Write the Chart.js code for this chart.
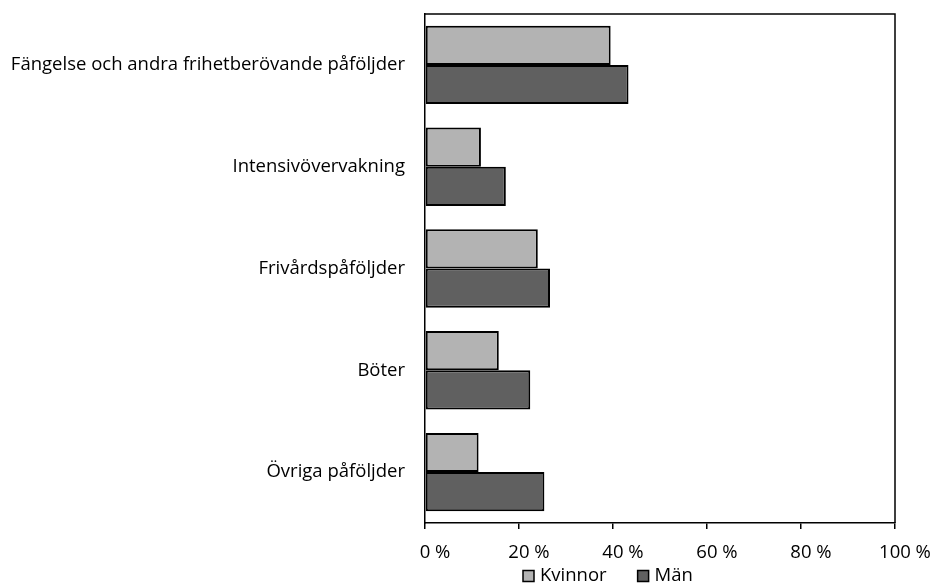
<!DOCTYPE html>
<html>
<head>
<meta charset="utf-8">
<script src="https://cdn.jsdelivr.net/npm/chart.js@4"></script>
<style>
  html, body { margin: 0; padding: 0; background: #fff; }
  #wrap { width: 933px; height: 585px; }
</style>
</head>
<body>
<div id="wrap"><canvas id="chart"></canvas></div>
<script>
// Categories and values (share in %)
const categories = [
  'Fängelse och andra frihetberövande påföljder',
  'Intensivövervakning',
  'Frivårdspåföljder',
  'Böter',
  'Övriga påföljder'
];
const kvinnor = [39.5, 11.9, 24.0, 15.7, 11.4];
const man = [43.3, 17.2, 26.6, 22.4, 25.4];
const xTicks = [0, 20, 40, 60, 80, 100];

const fontFamily = '"Open Sans", "Noto Sans", sans-serif';
const font = { family: fontFamily, size: 18.5 };

// Draw the top and right edges of the plot frame
const frame = {
  id: 'frame',
  afterDraw(chart) {
    const { ctx, chartArea: a } = chart;
    ctx.save();
    ctx.strokeStyle = '#000';
    ctx.lineWidth = 1.5;
    ctx.beginPath();
    ctx.moveTo(a.left, a.top);
    ctx.lineTo(a.right, a.top);
    ctx.lineTo(a.right, a.bottom);
    ctx.stroke();
    ctx.restore();
  }
};

// Legend below the axis, placed like the original
const bottomLegend = {
  id: 'bottomLegend',
  afterDraw(chart) {
    const { ctx } = chart;
    ctx.save();
    ctx.font = font.size + 'px ' + fontFamily;
    ctx.textBaseline = 'middle';
    ctx.fillStyle = '#000';
    let x = 523;
    const y = 576;
    chart.data.datasets.forEach(ds => {
      ctx.fillStyle = ds.backgroundColor;
      ctx.fillRect(x, y - 5.5, 11, 11);
      ctx.strokeStyle = '#000';
      ctx.lineWidth = 1.5;
      ctx.strokeRect(x, y - 5.5, 11, 11);
      ctx.fillStyle = '#000';
      ctx.fillText(ds.label, x + 17, y);
      x += 17 + ctx.measureText(ds.label).width + 31;
    });
    ctx.restore();
  }
};

const ctx = document.getElementById('chart').getContext('2d');
new Chart(ctx, {
  type: 'bar',
  data: {
    labels: categories,
    datasets: [{
      label: 'Kvinnor',
      data: kvinnor,
      backgroundColor: '#b3b3b3',
      borderColor: '#000',
      borderWidth: 2,
      borderSkipped: false
    }, {
      label: 'Män',
      data: man,
      backgroundColor: '#606060',
      borderColor: '#000',
      borderWidth: 2,
      borderSkipped: false
    }]
  },
  options: {
    indexAxis: 'y',
    responsive: true,
    maintainAspectRatio: false,
    animation: false,
    datasets: {
      bar: { categoryPercentage: 0.77, barPercentage: 1.0 }
    },
    layout: { padding: { left: 0, right: 38, top: 14, bottom: 0 } },
    scales: {
      x: {
        min: 0,
        max: 100,
        afterBuildTicks(scale) {
          scale.ticks = xTicks.map(v => ({ value: v }));
        },
        afterFit(scale) {
          scale.height = 62;
          scale.paddingLeft = 0;
          scale.paddingRight = 0;
        },
        grid: {
          drawOnChartArea: false,
          drawTicks: true,
          tickLength: 6,
          color: '#000',
          lineWidth: 1.5
        },
        border: { display: true, color: '#000', width: 1.5 },
        ticks: {
          color: '#000',
          font: font,
          padding: 13,
          labelOffset: 10,
          maxRotation: 0,
          callback: v => v + ' %'
        }
      },
      y: {
        afterFit(scale) {
          scale.width = 425;
          scale.paddingTop = 0;
          scale.paddingBottom = 0;
        },
        grid: { display: false, drawTicks: false },
        border: { display: true, color: '#000', width: 1.5 },
        ticks: { color: '#000', font: font, padding: 20 }
      }
    },
    plugins: {
      legend: { display: false },
      tooltip: { enabled: false }
    }
  },
  plugins: [frame, bottomLegend]
});
</script>
</body>
</html>
